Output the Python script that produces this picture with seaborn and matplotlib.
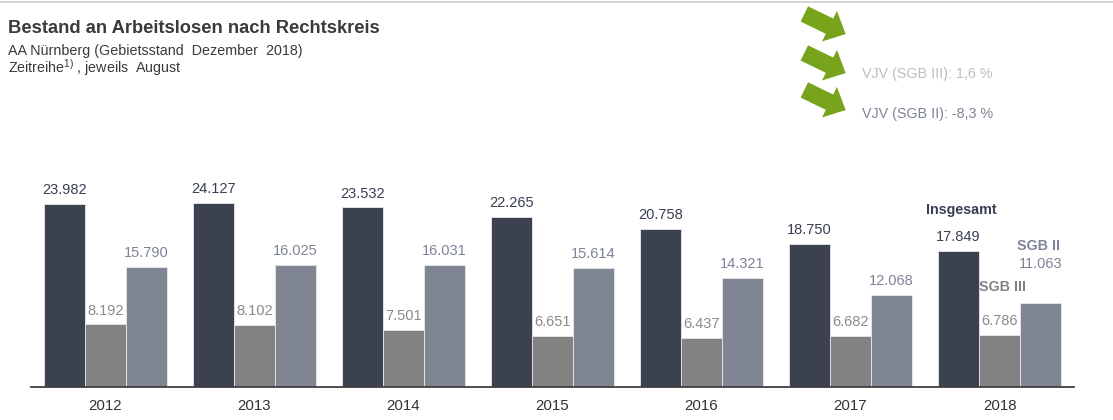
import numpy as np
import pandas as pd
import matplotlib
matplotlib.use("Agg")
import matplotlib.pyplot as plt
from matplotlib.patches import Polygon
import matplotlib.transforms as mtransforms
import seaborn as sns

years = ["2012", "2013", "2014", "2015", "2016", "2017", "2018"]
insgesamt = [23982, 24127, 23532, 22265, 20758, 18750, 17849]
sgb3 = [8192, 8102, 7501, 6651, 6437, 6682, 6786]
sgb2 = [15790, 16025, 16031, 15614, 14321, 12068, 11063]
series_names = ["Insgesamt", "SGB III", "SGB II"]

sns.set_theme(style="white")
plt.rcParams["font.family"] = ["Liberation Sans", "DejaVu Sans"]
plt.rcParams["mathtext.fontset"] = "custom"
plt.rcParams["mathtext.rm"] = "Liberation Sans"

c_dark = "#383f52"
c_gray = "#828282"
c_light = "#7d8496"
palette = [c_dark, c_gray, c_light]
label_colors = ["#383f52", "#8a8a8a", "#7d8496"]

df = pd.DataFrame({
    "Jahr": years * 3,
    "Wert": insgesamt + sgb3 + sgb2,
    "Reihe": [series_names[0]] * 7 + [series_names[1]] * 7 + [series_names[2]] * 7,
})

fig = plt.figure(figsize=(11.13, 4.2), dpi=100)
W, H = 1113, 420
ax = fig.add_axes([31 / W, (H - 387) / H, (1074 - 31) / W, (387 - 160) / H])

sns.barplot(data=df, x="Jahr", y="Wert", hue="Reihe", palette=palette,
            width=0.825, edgecolor="#e8e8ec", linewidth=0.6, ax=ax,
            legend=False, errorbar=None)

def de_fmt(v):
    return f"{int(round(v)):,}".replace(",", ".")

for i, (cont, col) in enumerate(zip(ax.containers, label_colors)):
    labels = [de_fmt(b.get_height()) for b in cont]
    if i == 2:
        ax.bar_label(cont, labels=labels[:-1] + [""], padding=5, color=col, fontsize=10.5)
        ax.bar_label(cont, labels=[""] * (len(labels) - 1) + [labels[-1]],
                     padding=23, color=col, fontsize=10.5)
    else:
        ax.bar_label(cont, labels=labels, padding=5, color=col, fontsize=10.5)

ax.set_xlim(-0.5, 6.5)
ax.set_ylim(0, 29750)
ax.set_xlabel("")
ax.set_ylabel("")
ax.set_yticks([])
ax.tick_params(axis="x", length=0, pad=9, labelsize=10.8, labelcolor="#333333")
for s in ["top", "right", "left"]:
    ax.spines[s].set_visible(False)
ax.spines["bottom"].set_color("#404040")
ax.spines["bottom"].set_linewidth(1.3)

# series labels near last group
ax.text(5.745, 23200, "Insgesamt", ha="center", va="center", fontsize=10.3,
        fontweight="bold", color=c_dark)
ax.text(6.265, 18480, "SGB II", ha="center", va="center", fontsize=10.3,
        fontweight="bold", color=c_light)
ax.text(6.017, 13150, "SGB III", ha="center", va="center", fontsize=10.3,
        fontweight="bold", color=c_gray)

# header
fig.add_artist(plt.Line2D([0, 1], [1 - 2 / H, 1 - 2 / H], color="#cccccc", lw=1.2))
fig.text(8 / W, 1 - 33 / H, "Bestand an Arbeitslosen nach Rechtskreis", fontsize=13.2,
         fontweight="bold", color="#3a3a3a", va="baseline")
fig.text(8 / W, 1 - 55 / H, "AA Nürnberg (Gebietsstand  Dezember  2018)", fontsize=10.3,
         color="#3a3a3a", va="baseline")
fig.text(8 / W, 1 - 73 / H, r"Zeitreihe$^{\mathrm{1)}}$ , jeweils  August", fontsize=10.3,
         color="#3a3a3a", va="baseline")

# green arrows
def arrow(cx, cy):
    L, sw, hw, hl = 46, 17, 34, 18
    pts = np.array([[-L / 2, -sw / 2], [L / 2 - hl, -sw / 2], [L / 2 - hl, -hw / 2],
                    [L / 2, 0], [L / 2 - hl, hw / 2], [L / 2 - hl, sw / 2],
                    [-L / 2, sw / 2]])
    a = np.deg2rad(-26)
    R = np.array([[np.cos(a), -np.sin(a)], [np.sin(a), np.cos(a)]])
    pts = pts @ R.T
    pts[:, 0] += cx
    pts[:, 1] += (H - cy)
    fig.add_artist(Polygon(pts, closed=True,
                           transform=mtransforms.Affine2D().scale(1 / W, 1 / H) + fig.transFigure,
                           facecolor="#78a41b", edgecolor="none"))

arrow(825, 24)
arrow(825, 63)
arrow(825, 100)

fig.text(862 / W, 1 - 78 / H, "VJV (SGB III): 1,6 %", fontsize=10.3, color="#bdbdbd", va="baseline")
fig.text(862 / W, 1 - 118 / H, "VJV (SGB II): -8,3 %", fontsize=10.3, color="#7d8496", va="baseline")

fig.savefig("out.png", dpi=100)
